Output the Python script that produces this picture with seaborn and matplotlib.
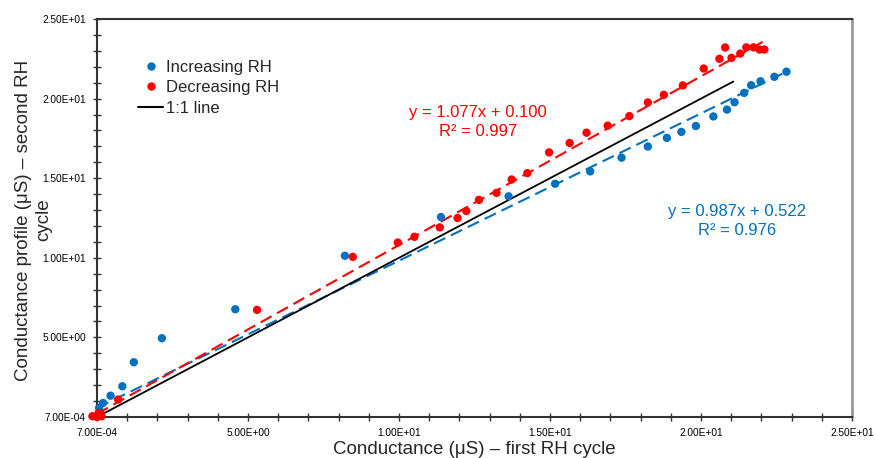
import numpy as np
import pandas as pd
import seaborn as sns
import matplotlib
matplotlib.use("Agg")
import matplotlib.pyplot as plt
from matplotlib.ticker import MultipleLocator, FixedLocator, FixedFormatter
from matplotlib.lines import Line2D

# ---- data ----
inc_x = [0.05, 0.07, 0.20, 0.45, 0.84, 1.22, 2.15, 4.58, 8.21, 11.39, 13.63, 15.17,
         16.33, 17.37, 18.24, 18.87, 19.35, 19.83, 20.41, 20.86, 21.11, 21.43,
         21.66, 21.97, 22.43, 22.83]
inc_y = [0.10, 0.57, 0.88, 1.34, 1.93, 3.44, 4.95, 6.77, 10.13, 12.56, 13.86, 14.65,
         15.43, 16.29, 16.99, 17.53, 17.91, 18.28, 18.88, 19.31, 19.77, 20.36,
         20.84, 21.09, 21.37, 21.69]

dec_x = [0.0007, -0.15, 0.05, 0.15, 0.12, 0.70, 5.30, 8.47, 9.96, 10.51, 11.35, 11.94, 12.23, 12.65,
         13.23, 13.73, 14.25, 14.97, 15.65, 16.21, 16.91, 17.63, 18.24, 18.77,
         19.40, 20.09, 20.61, 20.80, 21.01, 21.30, 21.50, 21.74, 21.94, 22.10]
dec_y = [0.0007, 0.05, 0.25, 0.05, 0.20, 1.10, 6.73, 10.06, 10.96, 11.32, 11.91, 12.50, 12.94, 13.64,
         14.08, 14.92, 15.32, 16.62, 17.21, 17.86, 18.30, 18.90, 19.76, 20.24,
         20.83, 21.89, 22.50, 23.21, 22.56, 22.83, 23.22, 23.22, 23.08, 23.08]

# trend lines as drawn (slope, intercept, x-range)
inc_fit = [0.925, 0.57]
inc_fit_x = [0.0007, 22.9]
dec_fit = [1.06, 0.20]
dec_fit_x = [0.0007, 22.13]
one_x = [0.0007, 21.07]

inc_label = "y = 0.987x + 0.522\nR² = 0.976"
dec_label = "y = 1.077x + 0.100\nR² = 0.997"

tick_vals = [0.0007, 5, 10, 15, 20, 25]
tick_labels = ["7.00E-04", "5.00E+00", "1.00E+01", "1.50E+01", "2.00E+01", "2.50E+01"]

BLUE = "#0070C0"
RED = "#FF0000"

sns.set_style("white")
plt.rcParams['font.family'] = ['Liberation Sans', 'DejaVu Sans']

fig = plt.figure(figsize=(8.75, 4.58), dpi=100)
ax = fig.add_axes([97/875, 1-417/458, 755/875, 398/458])

df = pd.DataFrame({
    "x": inc_x + dec_x,
    "y": inc_y + dec_y,
    "series": ["Increasing RH"]*len(inc_x) + ["Decreasing RH"]*len(dec_x),
})

# lines
xi = np.array(inc_fit_x)
ax.plot(xi, inc_fit[0]*xi + inc_fit[1], color=BLUE, lw=1.5, dashes=(6, 3), zorder=2)
xd = np.array(dec_fit_x)
ax.plot(xd, dec_fit[0]*xd + dec_fit[1], color=RED, lw=1.5, dashes=(6, 3), zorder=2)
ax.plot(one_x, one_x, color="black", lw=1.3, zorder=2)

sns.scatterplot(data=df, x="x", y="y", hue="series",
                palette={"Increasing RH": BLUE, "Decreasing RH": RED},
                s=36, edgecolor="none", linewidth=0, legend=False, ax=ax,
                zorder=3, clip_on=False)

ax.set_xlim(0.0007, 25)
ax.set_ylim(0.0007, 25)

for axis in (ax.xaxis, ax.yaxis):
    axis.set_major_locator(FixedLocator(tick_vals))
    axis.set_major_formatter(FixedFormatter(tick_labels))
    axis.set_minor_locator(MultipleLocator(1))

ax.tick_params(which="both", direction="inout", length=6, width=1, color="#333333",
               labelsize=7.3, labelcolor="black")
ax.tick_params(axis="x", which="both", bottom=True, top=False, pad=5)
ax.tick_params(axis="y", which="both", left=True, right=False, pad=5)

for side in ["left", "bottom", "top"]:
    ax.spines[side].set_color("#333333")
    ax.spines[side].set_linewidth(1.5)
ax.spines["right"].set_color("#999999")
ax.spines["right"].set_linewidth(2)

ax.set_xlabel("Conductance (μS) – first RH cycle", fontsize=13.5)
ax.xaxis.set_label_coords(0.5, -0.082)
ax.xaxis.label.set_va("center")
ax.set_ylabel("Conductance profile (μS) – second RH\ncycle", fontsize=13.5,
              multialignment="center")
ax.yaxis.set_label_coords(-0.084, 0.495)
ax.yaxis.label.set_va("center")

fig.text(478/875, 1 - 122/458, dec_label, fontsize=12, color=RED,
         ha="center", va="center", multialignment="center", linespacing=1.3)
fig.text(737/875, 1 - 221/458, inc_label, fontsize=12, color=BLUE,
         ha="center", va="center", multialignment="center", linespacing=1.3)

handles = [
    Line2D([], [], ls="none", marker="o", color=BLUE, markersize=6, markeredgewidth=0),
    Line2D([], [], ls="none", marker="o", color=RED, markersize=6, markeredgewidth=0),
    Line2D([], [], color="black", lw=1.5),
]
fig.legend(handles, ["Increasing RH", "Decreasing RH", "1:1 line"],
           loc="upper left", bbox_to_anchor=(138/875, 1-60/458), frameon=False,
           fontsize=12, handlelength=1.5, handletextpad=0.2, labelspacing=0.32,
           borderpad=0, borderaxespad=0)

fig.savefig("out.png", dpi=100)
